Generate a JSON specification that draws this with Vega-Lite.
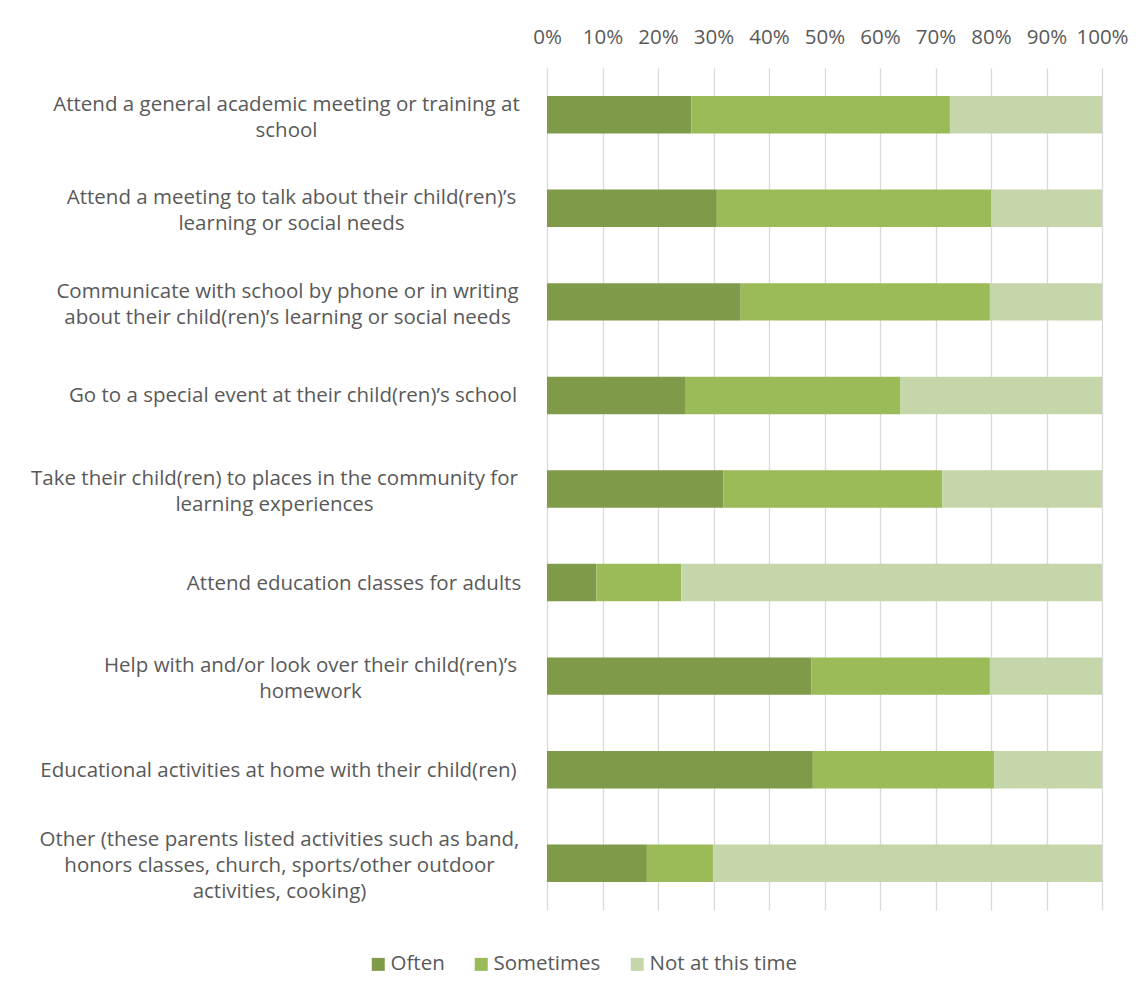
{
  "$schema": "https://vega.github.io/schema/vega-lite/v6.json",
  "width": 555,
  "height": 842,
  "autosize": "none",
  "padding": {"left": 547, "top": 68, "right": 40, "bottom": 83},
  "background": "white",
  "config": {
    "font": "Open Sans",
    "view": {"stroke": null},
    "axis": {"labelColor": "#595959", "labelFont": "Open Sans", "labelFontSize": 20.5}
  },
  "data": {
    "values": [
      {"activity": "Attend a general academic meeting or training at\nschool", "response": "Often", "k": 1, "pct": 26.0},
      {"activity": "Attend a general academic meeting or training at\nschool", "response": "Sometimes", "k": 2, "pct": 46.6},
      {"activity": "Attend a general academic meeting or training at\nschool", "response": "Not at this time", "k": 3, "pct": 27.4},
      {"activity": "Attend a meeting to talk about their child(ren)’s\nlearning or social needs", "response": "Often", "k": 1, "pct": 30.6},
      {"activity": "Attend a meeting to talk about their child(ren)’s\nlearning or social needs", "response": "Sometimes", "k": 2, "pct": 49.4},
      {"activity": "Attend a meeting to talk about their child(ren)’s\nlearning or social needs", "response": "Not at this time", "k": 3, "pct": 20.0},
      {"activity": "Communicate with school by phone or in writing\nabout their child(ren)’s learning or social needs", "response": "Often", "k": 1, "pct": 34.9},
      {"activity": "Communicate with school by phone or in writing\nabout their child(ren)’s learning or social needs", "response": "Sometimes", "k": 2, "pct": 44.9},
      {"activity": "Communicate with school by phone or in writing\nabout their child(ren)’s learning or social needs", "response": "Not at this time", "k": 3, "pct": 20.2},
      {"activity": "Go to a special event at their child(ren)’s school", "response": "Often", "k": 1, "pct": 25.0},
      {"activity": "Go to a special event at their child(ren)’s school", "response": "Sometimes", "k": 2, "pct": 38.7},
      {"activity": "Go to a special event at their child(ren)’s school", "response": "Not at this time", "k": 3, "pct": 36.3},
      {"activity": "Take their child(ren) to places in the community for\nlearning experiences", "response": "Often", "k": 1, "pct": 31.8},
      {"activity": "Take their child(ren) to places in the community for\nlearning experiences", "response": "Sometimes", "k": 2, "pct": 39.4},
      {"activity": "Take their child(ren) to places in the community for\nlearning experiences", "response": "Not at this time", "k": 3, "pct": 28.8},
      {"activity": "Attend education classes for adults", "response": "Often", "k": 1, "pct": 8.9},
      {"activity": "Attend education classes for adults", "response": "Sometimes", "k": 2, "pct": 15.3},
      {"activity": "Attend education classes for adults", "response": "Not at this time", "k": 3, "pct": 75.8},
      {"activity": "Help with and/or look over their child(ren)’s\nhomework", "response": "Often", "k": 1, "pct": 47.6},
      {"activity": "Help with and/or look over their child(ren)’s\nhomework", "response": "Sometimes", "k": 2, "pct": 32.2},
      {"activity": "Help with and/or look over their child(ren)’s\nhomework", "response": "Not at this time", "k": 3, "pct": 20.2},
      {"activity": "Educational activities at home with their child(ren)", "response": "Often", "k": 1, "pct": 47.9},
      {"activity": "Educational activities at home with their child(ren)", "response": "Sometimes", "k": 2, "pct": 32.7},
      {"activity": "Educational activities at home with their child(ren)", "response": "Not at this time", "k": 3, "pct": 19.4},
      {"activity": "Other (these parents listed activities such as band,\nhonors classes, church, sports/other outdoor\nactivities, cooking)", "response": "Often", "k": 1, "pct": 18.0},
      {"activity": "Other (these parents listed activities such as band,\nhonors classes, church, sports/other outdoor\nactivities, cooking)", "response": "Sometimes", "k": 2, "pct": 11.9},
      {"activity": "Other (these parents listed activities such as band,\nhonors classes, church, sports/other outdoor\nactivities, cooking)", "response": "Not at this time", "k": 3, "pct": 70.1}
    ]
  },
  "mark": {"type": "bar"},
  "encoding": {
    "y": {
      "field": "activity",
      "type": "nominal",
      "sort": null,
      "scale": {"paddingInner": 0.6, "paddingOuter": 0.3},
      "axis": {
        "title": null,
        "domain": false,
        "ticks": false,
        "labelLimit": 0,
        "labelAlign": "center",
        "labelBaseline": "middle",
        "labelLineHeight": 26,
        "labelExpr": "split(datum.label, '\\n')",
        "labelOffset": {
          "condition": [
            {"test": "indexof(datum.value, 'Other (') >= 0", "value": -23},
            {"test": "indexof(datum.value, '\\n') >= 0", "value": -10}
          ],
          "value": 1
        },
        "labelPadding": {
          "condition": [
            {"test": "indexof(datum.value, 'Attend a general') >= 0", "value": 261},
            {"test": "indexof(datum.value, 'Attend a meeting') >= 0", "value": 256},
            {"test": "indexof(datum.value, 'Communicate') >= 0", "value": 260},
            {"test": "indexof(datum.value, 'Go to a special') >= 0", "value": 254.5},
            {"test": "indexof(datum.value, 'Take their') >= 0", "value": 273},
            {"test": "indexof(datum.value, 'Attend education') >= 0", "value": 193.5},
            {"test": "indexof(datum.value, 'Help with') >= 0", "value": 237},
            {"test": "indexof(datum.value, 'Educational') >= 0", "value": 269}
          ],
          "value": 268
        }
      }
    },
    "x": {
      "field": "pct",
      "type": "quantitative",
      "stack": "normalize",
      "scale": {"domain": [0, 1]},
      "axis": {
        "orient": "top",
        "title": null,
        "format": ".0%",
        "values": [0, 0.1, 0.2, 0.3, 0.4, 0.5, 0.6, 0.7, 0.8, 0.9, 1],
        "domain": false,
        "ticks": false,
        "labelPadding": 21,
        "grid": true,
        "gridColor": "#d9d9d9",
        "gridWidth": 1.3,
        "labelFlush": false
      }
    },
    "color": {
      "field": "response",
      "type": "nominal",
      "scale": {
        "domain": ["Often", "Sometimes", "Not at this time"],
        "range": ["#7f9a48", "#9bbb59", "#c6d6ab"]
      },
      "legend": {
        "title": null,
        "orient": "none",
        "direction": "horizontal",
        "legendX": -179,
        "legendY": 886,
        "symbolType": "square",
        "symbolSize": 169,
        "symbolStrokeWidth": 0,
        "labelFont": "Open Sans",
        "labelFontSize": 20.5,
        "labelColor": "#595959",
        "labelOffset": 2,
        "columnPadding": 26
      }
    },
    "order": {"field": "k", "type": "quantitative"}
  }
}
